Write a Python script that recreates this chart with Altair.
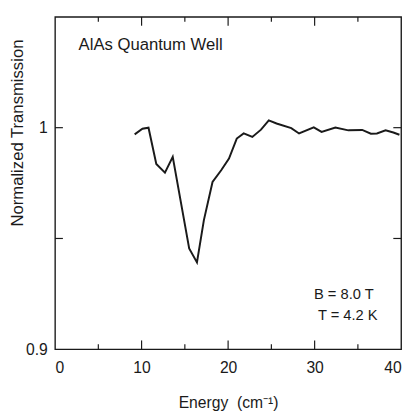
import altair as alt
import pandas as pd

energy = [9.2, 10.1, 10.8, 11.7, 12.7, 13.6, 15.5, 16.4, 17.2, 18.2, 19.2, 20.1, 21.0, 21.8,
          22.8, 23.8, 24.7, 25.6, 27.3, 28.2, 29.9, 30.8, 32.4, 33.9, 35.5, 36.5, 37.2, 38.2,
          39.1, 39.8]
transmission = [0.997, 0.9995, 1.000, 0.9836, 0.9797, 0.9868, 0.9455, 0.9392, 0.9583, 0.9755,
                0.9808, 0.9861, 0.9951, 0.9974, 0.9958, 0.9991, 1.0033, 1.0019, 0.9998, 0.9974,
                1.0001, 0.9981, 1.0001, 0.9988, 0.999, 0.9973, 0.9974, 0.9988, 0.9978, 0.9968]

x_labels = [0, 10, 20, 30, 40]
y_labels = [0.9, 1.0]
x_major = [10, 20, 30]
x_minor = [5, 15, 25, 35]
y_ticks = [0.95, 1.0]

W, H = 353, 339
FONT = "Liberation Sans"
INK = "#1a1a1a"

xs = alt.Scale(domain=[0, 40], nice=False, zero=False)
ys = alt.Scale(domain=[0.9, 1.05], nice=False, zero=False)

x_axis = alt.Axis(values=x_labels, ticks=False, domain=False, grid=False,
                  labelFontSize=16, labelFont=FONT, labelColor=INK, labelPadding=11,
                  title="Energy\u00a0\u00a0(cm⁻¹)", titleFontSize=16, titleFont=FONT,
                  titleFontWeight="normal", titleColor=INK, titlePadding=19)
y_axis = alt.Axis(values=y_labels, format=".1~f", ticks=False, domain=False, grid=False,
                  labelFontSize=16, labelFont=FONT, labelColor=INK, labelPadding=8,
                  title="Normalized Transmission", titleFontSize=17, titleFont=FONT,
                  titleFontWeight="normal", titleColor=INK,
                  titleX=-38, titleY=118, titleAlign="center", titleBaseline="middle")

df = pd.DataFrame({"energy": energy, "transmission": transmission})

line = alt.Chart(df).mark_line(color=INK, strokeWidth=2, clip=True).encode(
    x=alt.X("energy:Q", scale=xs, axis=x_axis),
    y=alt.Y("transmission:Q", scale=ys, axis=y_axis),
)

def xticks(vals, length, top):
    d = pd.DataFrame({"energy": vals})
    if top:
        yy, yy2 = alt.value(0), alt.value(length)
    else:
        yy, yy2 = alt.value(H), alt.value(H - length)
    return alt.Chart(d).mark_rule(color=INK, strokeWidth=1.2).encode(
        x=alt.X("energy:Q", scale=xs, axis=x_axis), y=yy, y2=yy2)

def yticks(vals, length, right):
    d = pd.DataFrame({"transmission": vals})
    if right:
        xx, xx2 = alt.value(W), alt.value(W - length)
    else:
        xx, xx2 = alt.value(0), alt.value(length)
    return alt.Chart(d).mark_rule(color=INK, strokeWidth=1.2).encode(
        y=alt.Y("transmission:Q", scale=ys, axis=y_axis), x=xx, x2=xx2)

ticks = [
    xticks(x_major, 9, False), xticks(x_minor, 5, False),
    xticks(x_major, 9, True), xticks(x_minor, 5, True),
    yticks(y_ticks, 8, False), yticks(y_ticks, 8, True),
]

title_txt = alt.Chart(pd.DataFrame({"s": ["AlAs Quantum Well"]})).mark_text(
    align="left", baseline="middle", fontSize=17, font=FONT, color=INK
).encode(x=alt.value(24), y=alt.value(29), text="s:N")

b_txt = alt.Chart(pd.DataFrame({"s": ["B = 8.0 T"]})).mark_text(
    align="right", baseline="middle", fontSize=15, font=FONT, color=INK
).encode(x=alt.value(325), y=alt.value(283), text="s:N")

t_txt = alt.Chart(pd.DataFrame({"s": ["T = 4.2 K"]})).mark_text(
    align="right", baseline="middle", fontSize=15, font=FONT, color=INK
).encode(x=alt.value(329), y=alt.value(304), text="s:N")

chart = alt.layer(line, *ticks, title_txt, b_txt, t_txt).properties(
    width=W, height=H,
    background="white",
    autosize=alt.AutoSizeParams(type="none"),
    padding={"left": 48, "top": 5, "right": 8, "bottom": 64},
).configure_view(stroke=INK, strokeWidth=1.4)

chart.save("out.html", embed_options={"renderer": "svg", "actions": False})
